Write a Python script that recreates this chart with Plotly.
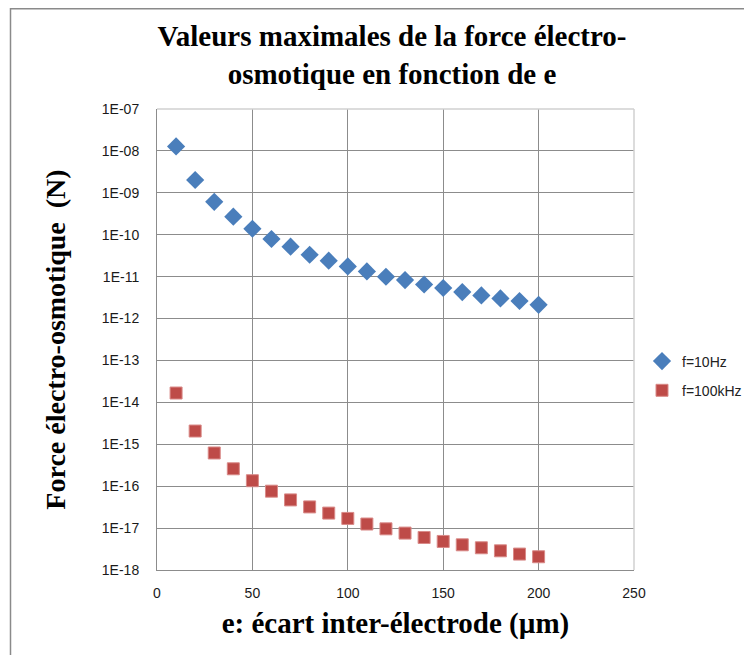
import plotly.graph_objects as go

# ---- data ----
e_um = [10, 20, 30, 40, 50, 60, 70, 80, 90, 100,
        110, 120, 130, 140, 150, 160, 170, 180, 190, 200]
force_10Hz = [1.28e-8, 2.02e-9, 6.1e-10, 2.69e-10, 1.39e-10, 7.9e-11, 5.18e-11, 3.33e-11, 2.4e-11, 1.75e-11,
              1.33e-11, 9.95e-12, 8.3e-12, 6.5e-12, 5.35e-12, 4.29e-12, 3.56e-12, 3.02e-12, 2.62e-12, 2.13e-12]
force_100kHz = [1.67e-14, 2.07e-15, 6.2e-16, 2.6e-16, 1.35e-16, 7.6e-17, 4.7e-17, 3.2e-17, 2.28e-17, 1.7e-17,
                1.25e-17, 9.6e-18, 7.6e-18, 5.97e-18, 4.8e-18, 3.99e-18, 3.39e-18, 2.87e-18, 2.4e-18, 2.07e-18]
series_names = ["f=10Hz", "f=100kHz"]
y_tick_vals = [1e-7, 1e-8, 1e-9, 1e-10, 1e-11, 1e-12, 1e-13, 1e-14, 1e-15, 1e-16, 1e-17, 1e-18]
y_tick_text = ["1E-07", "1E-08", "1E-09", "1E-10", "1E-11", "1E-12",
               "1E-13", "1E-14", "1E-15", "1E-16", "1E-17", "1E-18"]
x_tick_vals = [0, 50, 100, 150, 200, 250]
x_tick_text = ["0", "50", "100", "150", "200", "250"]

title_text = "Valeurs maximales de la force électro-<br>osmotique en fonction de e"
x_title = "e: écart inter-électrode (µm)"
y_title = "Force électro-osmotique  (N)"

SERIF = "Liberation Serif, Times New Roman, serif"
SANS = "Liberation Sans, Arial, sans-serif"

W, H = 744, 647  # page body has an 8px margin

fig = go.Figure()
fig.add_trace(go.Scatter(
    x=e_um, y=force_10Hz, mode="markers", name=series_names[0], legendgroup="a",
    marker=dict(symbol="diamond", size=14, color="#4a7ebb", line=dict(width=0)),
))
fig.add_trace(go.Scatter(
    x=e_um, y=force_100kHz, mode="markers", name=series_names[1], legendgroup="b",
    marker=dict(symbol="square", size=12, color="#be4b48", line=dict(width=1, color="#d98a88")),
))

fig.update_layout(
    width=W, height=H,
    margin=dict(l=149, r=118, t=101, b=85, autoexpand=False),
    paper_bgcolor="white", plot_bgcolor="white",
    title=dict(text=title_text, x=384 / W, xref="container", xanchor="center",
               y=1 - 38 / H, yref="container", yanchor="middle",
               font=dict(family=SERIF, size=29, color="black", weight="bold")),
    legend=dict(x=634 / W, y=1 - 368 / H, xref="container", yref="container",
                xanchor="left", yanchor="middle",
                font=dict(family=SANS, size=14, color="#222"),
                tracegroupgap=8, traceorder="grouped", bgcolor="rgba(0,0,0,0)"),
    xaxis=dict(range=[0, 250], tickvals=x_tick_vals, ticktext=x_tick_text,
               showgrid=True, gridcolor="#8c8c8c", gridwidth=1,
               showline=True, linecolor="#8c8c8c", linewidth=1,
               zeroline=False, ticks="", ticklabelstandoff=10, automargin=False,
               tickfont=dict(family=SANS, size=14, color="#1a1a1a"),
               title=dict(text=x_title, standoff=12,
                          font=dict(family=SERIF, size=29, color="black", weight="bold"))),
    yaxis=dict(type="log", range=[-18, -7], tickvals=y_tick_vals, ticktext=y_tick_text,
               showgrid=True, gridcolor="#8c8c8c", gridwidth=1,
               showline=True, linecolor="#8c8c8c", linewidth=1,
               zeroline=False, ticks="", ticklabelstandoff=14, automargin=False,
               tickfont=dict(family=SANS, size=14, color="#1a1a1a"),
               title=dict(text=y_title, standoff=28,
                          font=dict(family=SERIF, size=28, color="black", weight="bold"))),
)

# lighter plot-area border on top and right
fig.add_shape(type="line", xref="paper", yref="paper", x0=0, x1=1, y0=1, y1=1,
              line=dict(color="#d0d0d0", width=1.5), layer="above")
fig.add_shape(type="line", xref="paper", yref="paper", x0=1, x1=1, y0=0, y1=1,
              line=dict(color="#d0d0d0", width=1.5), layer="above")
# outer chart border
PW, PH = W - 149 - 118, H - 101 - 85
fig.add_shape(type="rect", xref="paper", yref="paper",
              x0=(2.5 - 149) / PW, x1=(W + 10 - 149) / PW,
              y0=-(85 + 10) / PH, y1=(PH + 101 - 0.8) / PH,
              line=dict(color="#8a8a8a", width=1.5), fillcolor="rgba(0,0,0,0)", layer="above")

fig.write_html("out.html")
